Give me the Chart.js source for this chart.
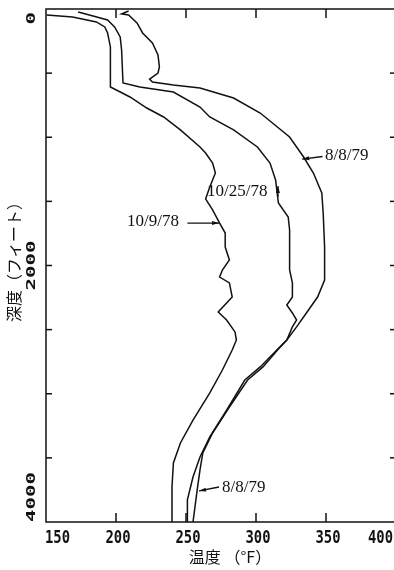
<!DOCTYPE html>
<html>
<head>
<meta charset="utf-8">
<script src="https://cdn.jsdelivr.net/npm/chart.js@4/dist/chart.umd.min.js"></script>
<style>
  html, body { margin: 0; padding: 0; background: #fff; overflow: hidden; }
  #wrap { width: 398px; height: 570px; }
</style>
</head>
<body>
<div id="wrap"><canvas id="myChart" width="398" height="570"></canvas></div>
<script>
// tick labels
const tempTicks = [150, 200, 250, 300, 350, 400];
const depthTicks = [0, 2000, 4000];
const depthMinor = [500, 1000, 1500, 2000, 2500, 3000, 3500];

// 10/9/78
const depthA = [47, 62, 101, 140, 187, 296, 608, 686, 772, 842, 943, 1076, 1123, 1201, 1279, 1388, 1481, 1567, 1669, 1747, 1856, 1957, 2035, 2090, 2136, 2246, 2362, 2425, 2518, 2581, 2659, 2815, 2994, 3205, 3384, 3540, 3727, 4000];
const tempA = [150.5, 169, 186, 192, 194, 196, 196, 210, 222, 234, 246, 260, 264, 269, 271, 267, 264, 269, 274, 278, 278, 281, 276, 274, 281, 283, 273, 279, 285, 286, 283, 276, 267, 255, 246, 241, 240, 240];

// 10/25/78
const depthB = [23, 47, 86, 140, 218, 320, 577, 608, 647, 764, 842, 943, 1076, 1201, 1333, 1513, 1622, 1723, 2035, 2136, 2246, 2308, 2370, 2425, 2479, 2581, 2635, 2791, 2893, 3127, 3337, 3493, 3649, 3828, 4000];
const tempB = [173, 181, 194, 199, 203, 204, 205, 217, 241, 260, 267, 284, 301, 310, 314, 316, 323, 324, 324, 326, 326, 322, 326, 329, 326, 322, 317, 303, 292, 279, 267, 260, 255, 251, 251];

// 8/8/79
const depthC = [16, 39, 47, 109, 187, 265, 359, 452, 499, 546, 569, 593, 616, 694, 811, 998, 1154, 1279, 1435, 1591, 1856, 2113, 2246, 2370, 2479, 2581, 2651, 2791, 2893, 3103, 3306, 3462, 3594, 3750, 4000];
const tempC = [209, 204, 209, 215, 219, 226, 230, 231, 230, 224, 226, 241, 260, 284, 303, 324, 334, 341, 347, 348, 349, 349, 344, 336, 329, 322, 316, 305, 294, 281, 269, 262, 260, 258, 255];

const toPts = (t, d) => t.map((v, i) => ({x: v, y: d[i]}));

// curve labels: text, label position, leader line from -> to (data units)
const notes = [
    {text: '8/8/79', x: 349.3, y: 1146, from: [347.5, 1150], to: [333, 1170]},
    {text: '10/25/78', x: 265, y: 1427, from: [315.7, 1466], to: [315.7, 1380]},
    {text: '10/9/78', x: 207.9, y: 1661, from: [251, 1669], to: [273.6, 1669]},
    {text: '8/8/79', x: 275.7, y: 3735, from: [273.6, 3727], to: [259.3, 3758]},
];

const line = (ctx, x1, y1, x2, y2) => {
    ctx.beginPath();
    ctx.moveTo(x1, y1);
    ctx.lineTo(x2, y2);
    ctx.stroke();
};

const framePlugin = {
    id: 'frame',
    afterDraw(chart) {
        const ctx = chart.ctx;
        const xs = chart.scales.x, ys = chart.scales.y;
        const a = chart.chartArea;
        ctx.save();
        ctx.strokeStyle = '#111';
        ctx.fillStyle = '#111';
        ctx.lineWidth = 1.5;
        ctx.strokeRect(a.left, a.top, a.right - a.left, a.bottom - a.top);

        // inward ticks
        tempTicks.slice(1, -1).forEach(t => {
            const px = xs.getPixelForValue(t);
            line(ctx, px, a.bottom, px, a.bottom - 9);
            line(ctx, px, a.top, px, a.top + 9);
        });
        depthMinor.forEach(d => {
            const py = ys.getPixelForValue(d);
            line(ctx, a.left, py, a.left + 6, py);
            line(ctx, a.right, py, a.right - 6, py);
        });

        // x tick labels
        ctx.font = 'bold 18px "DejaVu Sans Mono"';
        ctx.textBaseline = 'middle';
        tempTicks.forEach((t, i) => {
            const px = xs.getPixelForValue(t);
            ctx.save();
            ctx.translate(i === 0 ? px - 1 : (i === tempTicks.length - 1 ? px - 3 : px + 2), a.bottom + 16);
            ctx.scale(0.77, 1);
            ctx.textAlign = i === 0 ? 'left' : (i === tempTicks.length - 1 ? 'right' : 'center');
            ctx.fillText(String(t), 0, 0);
            ctx.restore();
        });

        // y tick labels, rotated
        ctx.font = 'bold 13px "DejaVu Sans Mono"';
        depthTicks.forEach((d, i) => {
            const py = ys.getPixelForValue(d);
            ctx.save();
            ctx.translate(32, i === 0 ? py + 3 : py);
            ctx.rotate(-Math.PI / 2);
            ctx.scale(1.6, 1);
            ctx.textAlign = i === 0 ? 'right' : (i === depthTicks.length - 1 ? 'left' : 'center');
            ctx.fillText(String(d), 0, 0);
            ctx.restore();
        });

        // axis titles
        ctx.font = '16px "Noto Sans CJK JP"';
        ctx.textAlign = 'center';
        ctx.fillText('温度 （°F）', 230, 557);
        ctx.save();
        ctx.translate(14, 258);
        ctx.rotate(-Math.PI / 2);
        ctx.fillText('深度（フィート）', 0, 0);
        ctx.restore();

        // curve labels
        ctx.font = '17px "Liberation Serif"';
        ctx.textAlign = 'left';
        notes.forEach(n => {
            ctx.fillText(n.text, xs.getPixelForValue(n.x), ys.getPixelForValue(n.y));
            const x1 = xs.getPixelForValue(n.from[0]), y1 = ys.getPixelForValue(n.from[1]);
            const x2 = xs.getPixelForValue(n.to[0]), y2 = ys.getPixelForValue(n.to[1]);
            ctx.lineWidth = 1.3;
            line(ctx, x1, y1, x2, y2);
            const ang = Math.atan2(y2 - y1, x2 - x1);
            ctx.beginPath();
            ctx.moveTo(x2, y2);
            ctx.lineTo(x2 - 7 * Math.cos(ang) + 2 * Math.sin(ang), y2 - 7 * Math.sin(ang) - 2 * Math.cos(ang));
            ctx.lineTo(x2 - 7 * Math.cos(ang) - 2 * Math.sin(ang), y2 - 7 * Math.sin(ang) + 2 * Math.cos(ang));
            ctx.closePath();
            ctx.fill();
        });
        ctx.restore();
    }
};

const mkSet = (label, t, d) => ({
    label: label,
    data: toPts(t, d),
    showLine: true,
    borderColor: '#111',
    borderWidth: 1.5,
    pointRadius: 0,
    tension: 0,
});

new Chart(document.getElementById('myChart'), {
    type: 'scatter',
    data: {
        datasets: [
            mkSet('10/9/78', tempA, depthA),
            mkSet('10/25/78', tempB, depthB),
            mkSet('8/8/79', tempC, depthC),
        ]
    },
    options: {
        responsive: false,
        animation: false,
        layout: {padding: {left: 46, right: 2, top: 9, bottom: 48}},
        plugins: {legend: {display: false}, tooltip: {enabled: false}},
        scales: {
            x: {type: 'linear', min: 150, max: 400, display: false},
            y: {type: 'linear', min: 0, max: 4000, reverse: true, display: false},
        }
    },
    plugins: [framePlugin]
});
</script>
</body>
</html>
